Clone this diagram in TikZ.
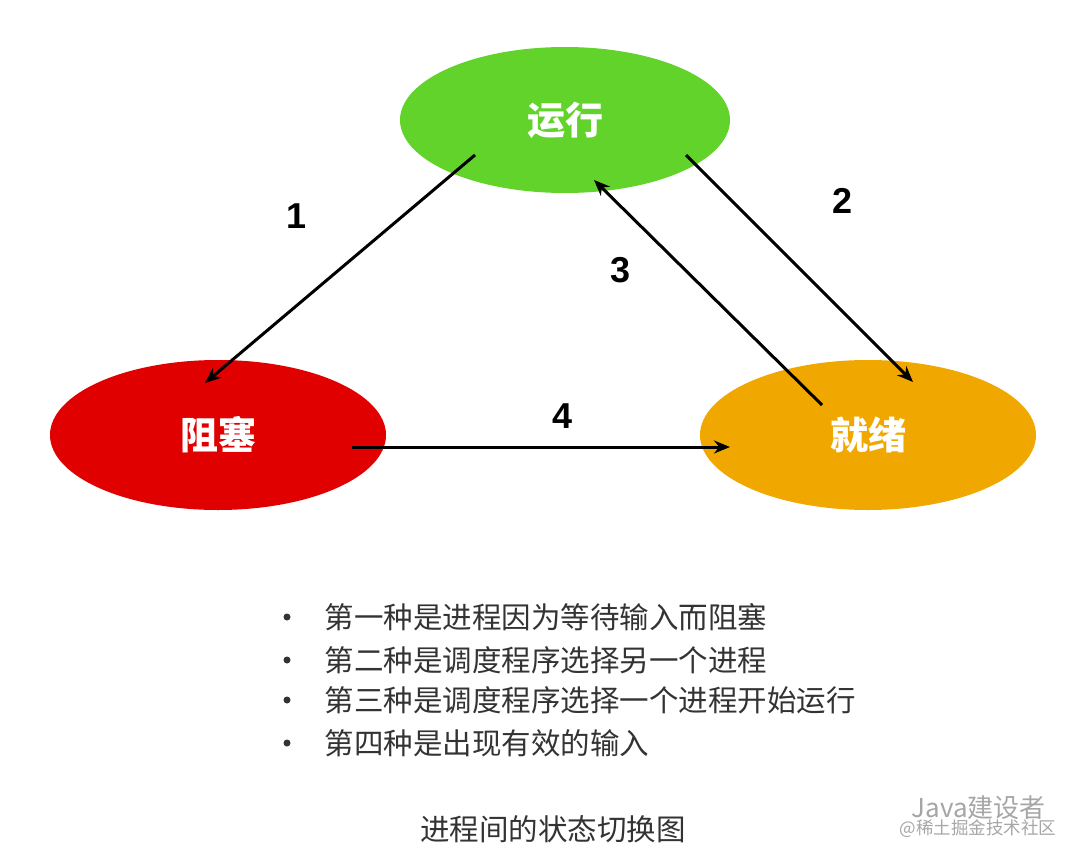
\documentclass[tikz,border=0pt]{standalone}
\usepackage{fontspec}
\setmainfont{Liberation Sans}
\newfontfamily\cjk{Noto Sans CJK SC}
\usetikzlibrary{shapes.geometric,arrows.meta}
\definecolor{cgreen}{HTML}{62D32A}
\definecolor{cred}{HTML}{E00000}
\definecolor{corange}{HTML}{F0A800}
\definecolor{ctext}{HTML}{333333}
\tikzset{
 state/.style={ellipse,inner sep=0pt,text=white,font=\cjk\bfseries\fontsize{38}{42}\selectfont},
 arr/.style={line width=3pt,-{Stealth[length=16pt,width=13pt]}},
 num/.style={font=\bfseries\fontsize{36}{40}\selectfont},
 item/.style={anchor=west,text=ctext,font=\cjk\fontsize{29.5}{32}\selectfont},
}
\begin{document}
\begin{tikzpicture}[x=1pt,y=-1pt]
\useasboundingbox (0,0) rectangle (1080,862);
\node[state,fill=cgreen,minimum width=330pt,minimum height=146pt] (run) at (565,120) {运行};
\node[state,fill=cred,minimum width=336pt,minimum height=150pt] (blk) at (218,435) {阻塞};
\node[state,fill=corange,minimum width=336pt,minimum height=150pt] (rdy) at (868,435) {就绪};
\coordinate (a1) at (475,155); \coordinate (b1) at (205,383);
\coordinate (a2) at (686,155); \coordinate (b2) at (913,382);
\coordinate (a3) at (822,405); \coordinate (b3) at (594,180);
\coordinate (a4) at (352,447); \coordinate (b4) at (730,447);
\draw[arr] (a1) -- (b1);
\draw[arr] (a2) -- (b2);
\draw[arr] (a3) -- (b3);
\draw[arr] (a4) -- (b4);
\node[num] (n1) at (297,216) {1};
\node[num] (n2) at (843,201) {2};
\node[num] (n3) at (621,270) {3};
\node[num] (n4) at (563,416) {4};
\foreach \y/\t [count=\i] in {617/第一种是进程因为等待输入而阻塞,660/第二种是调度程序选择另一个进程,700/第三种是调度程序选择一个进程开始运行,743/第四种是出现有效的输入}{
  \fill[ctext] (287,\y) circle (3.5pt);
  \node[item] (it\i) at (321,\y) {\t};
}
\node[text=ctext,font=\cjk\fontsize{29.5}{32}\selectfont] (cap) at (553,829) {进程间的状态切换图};
\node[text=gray!70,font=\cjk\fontsize{26}{28}\selectfont,anchor=west] (wm1) at (908,808) {Java建设者};
\node[text=gray!70,font=\cjk\fontsize{17.5}{20}\selectfont,anchor=west] (wm2) at (896,829) {@稀土掘金技术社区};
\end{tikzpicture}
\end{document}
